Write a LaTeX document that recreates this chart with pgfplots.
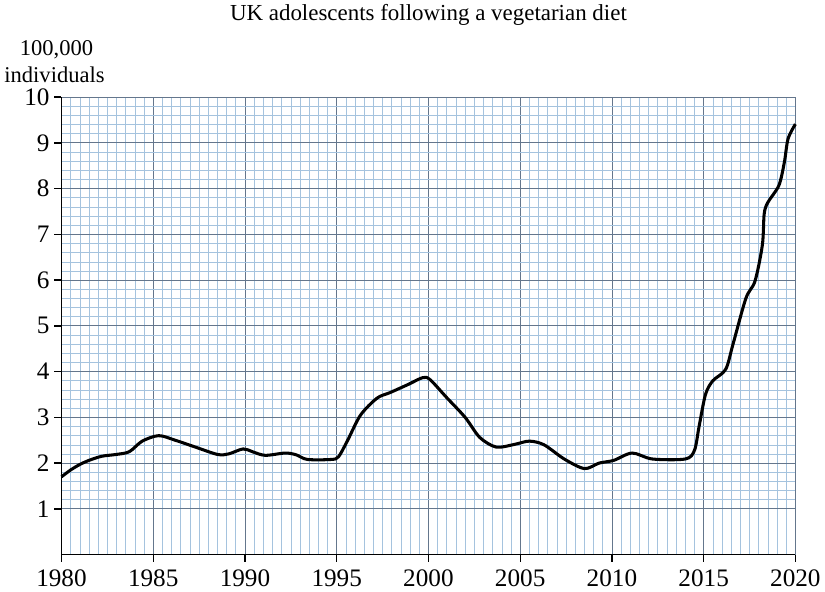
\documentclass[border=0pt]{standalone}
\usepackage{fontspec}
\setmainfont{Liberation Serif}
\usepackage{pgfplots}
\pgfplotsset{compat=1.18}

\definecolor{gridminor}{RGB}{165,195,222}
\definecolor{gridmajor}{RGB}{100,118,140}

\begin{document}
\begin{tikzpicture}
    \begin{axis}[
        scale only axis,
        width=553.5pt,
        height=345pt,
        xmin=1980, xmax=2020,
        ymin=0, ymax=10,
        xtick={1980,1985,...,2020},
        ytick={1,2,...,10},
        minor x tick num=9,
        minor y tick num=4,
        grid=both,
        major grid style={gridmajor, line width=0.6pt},
        minor grid style={gridminor, line width=0.45pt},
        axis lines*=left,
        axis line style={black, line width=1.1pt},
        tick align=outside,
        major tick length=5.5pt,
        minor tick length=0pt,
        major tick style={black, line width=1pt},
        xticklabel style={font=\fontsize{19}{21}\selectfont, yshift=-2.5pt},
        yticklabel style={font=\fontsize{19}{21}\selectfont},
        /pgf/number format/assume math mode=true,
        /pgf/number format/1000 sep={},
        clip=false,
    ]
    \addplot[smooth, tension=0.5, black, line width=2.3pt] coordinates {
        (1980,1.70) (1980.5,1.85) (1981,1.97) (1981.5,2.06) (1982.2,2.15)
        (1983,2.19) (1983.7,2.25) (1984.4,2.48) (1985.3,2.60) (1986.2,2.50)
        (1987.3,2.35) (1988.5,2.19) (1989.1,2.20) (1989.9,2.31) (1990.4,2.25)
        (1991.1,2.17) (1992.2,2.22) (1992.8,2.18) (1993.4,2.08) (1994.7,2.08)
        (1995.1,2.14) (1995.6,2.50) (1996.3,3.05) (1997.2,3.42) (1997.9,3.54)
        (1998.9,3.72) (1999.7,3.87) (2000.1,3.82) (2001,3.43) (2002,3.00)
        (2002.8,2.56) (2003.7,2.35) (2004.7,2.41) (2005.5,2.48) (2006.3,2.40)
        (2007.4,2.09) (2008.5,1.88) (2009.3,2.00) (2010.1,2.06) (2011.1,2.22)
        (2012.2,2.09) (2014,2.09) (2014.5,2.28) (2014.75,2.80) (2015.1,3.50)
        (2015.5,3.80) (2016.2,4.05) (2016.6,4.60) (2017.3,5.60) (2017.8,5.98)
        (2018.2,6.77) (2018.3,7.45) (2018.5,7.70) (2019.1,8.07) (2019.4,8.58)
        (2019.6,9.09) (2020,9.41)
    };
    \node[anchor=base, font=\fontsize{17.3}{20}\selectfont] at (rel axis cs:0.5,1) [yshift=57.75pt] {UK adolescents following a vegetarian diet};
    \node[anchor=base, font=\fontsize{17}{20}\selectfont] at (rel axis cs:0,1) [xshift=-3.75pt, yshift=31.5pt] {100,000};
    \node[anchor=base, font=\fontsize{17}{20}\selectfont] at (rel axis cs:0,1) [xshift=-5.25pt, yshift=11.25pt] {individuals};
    \end{axis}
\end{tikzpicture}
\end{document}
